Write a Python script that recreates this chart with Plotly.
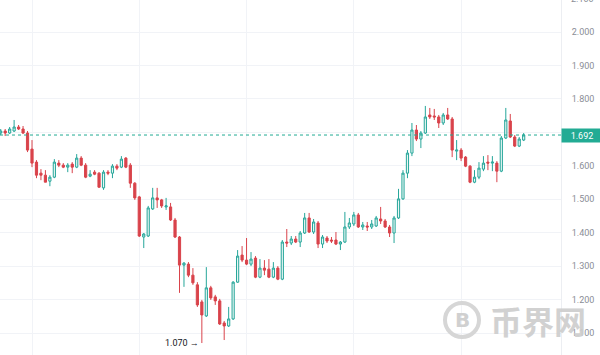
import plotly.graph_objects as go

opens = [1.698,1.704,1.698,1.704,1.716,1.710,1.698,1.650,1.611,1.578,
         1.572,1.554,1.566,1.608,1.602,1.596,1.605,1.596,1.623,1.602,
         1.569,1.581,1.578,1.534,1.581,1.578,1.599,1.596,1.623,1.602,
         1.548,1.507,1.387,1.390,1.471,1.504,1.498,1.477,1.477,1.438,
         1.387,1.303,1.306,1.273,1.244,1.193,1.151,1.235,1.208,1.196,
         1.130,1.121,1.142,1.252,1.333,1.318,1.306,1.324,1.267,1.294,
         1.291,1.267,1.294,1.261,1.372,1.369,1.381,1.372,1.399,1.444,
         1.402,1.429,1.366,1.384,1.378,1.378,1.366,1.372,1.417,1.426,
         1.453,1.417,1.420,1.417,1.420,1.441,1.435,1.417,1.399,1.444,
         1.501,1.578,1.638,1.707,1.680,1.698,1.752,1.749,1.746,1.728,
         1.752,1.740,1.644,1.647,1.626,1.599,1.551,1.566,1.590,1.611,
         1.608,1.608,1.584,1.683,1.734,1.686,1.659,1.677]
highs = [1.710,1.710,1.716,1.737,1.722,1.719,1.704,1.677,1.617,1.590,
         1.587,1.572,1.620,1.617,1.608,1.608,1.611,1.635,1.629,1.608,
         1.587,1.587,1.581,1.587,1.587,1.605,1.605,1.629,1.626,1.608,
         1.551,1.510,1.399,1.480,1.534,1.534,1.501,1.504,1.489,1.444,
         1.390,1.312,1.312,1.294,1.252,1.199,1.297,1.241,1.214,1.202,
         1.136,1.178,1.255,1.348,1.360,1.384,1.342,1.330,1.321,1.318,
         1.321,1.312,1.300,1.378,1.411,1.390,1.390,1.405,1.459,1.459,
         1.441,1.435,1.393,1.390,1.387,1.402,1.375,1.462,1.444,1.462,
         1.459,1.432,1.432,1.438,1.450,1.477,1.441,1.423,1.450,1.531,
         1.587,1.647,1.728,1.722,1.704,1.779,1.773,1.770,1.752,1.758,
         1.773,1.746,1.677,1.653,1.629,1.602,1.587,1.611,1.629,1.632,
         1.629,1.614,1.689,1.773,1.755,1.692,1.686,1.698]
lows = [1.692,1.689,1.695,1.701,1.707,1.695,1.641,1.596,1.563,1.557,
        1.551,1.539,1.563,1.596,1.593,1.581,1.578,1.593,1.599,1.563,
        1.566,1.572,1.534,1.528,1.572,1.563,1.587,1.593,1.593,1.534,
        1.498,1.387,1.354,1.387,1.468,1.474,1.474,1.468,1.435,1.384,
        1.220,1.238,1.267,1.244,1.178,1.070,1.148,1.199,1.184,1.124,
        1.079,1.118,1.139,1.250,1.312,1.303,1.300,1.264,1.264,1.273,
        1.264,1.264,1.258,1.258,1.357,1.363,1.369,1.357,1.396,1.399,
        1.396,1.354,1.354,1.369,1.369,1.363,1.348,1.369,1.411,1.420,
        1.414,1.408,1.405,1.411,1.417,1.426,1.414,1.387,1.369,1.441,
        1.498,1.563,1.629,1.674,1.653,1.695,1.740,1.737,1.713,1.722,
        1.737,1.626,1.617,1.614,1.596,1.548,1.548,1.560,1.584,1.587,
        1.584,1.551,1.581,1.680,1.683,1.656,1.656,1.674]
closes = [1.704,1.698,1.710,1.716,1.710,1.698,1.647,1.608,1.572,1.572,
          1.551,1.566,1.611,1.602,1.596,1.602,1.596,1.623,1.602,1.566,
          1.575,1.575,1.536,1.581,1.578,1.599,1.593,1.620,1.596,1.548,
          1.504,1.390,1.396,1.474,1.504,1.498,1.480,1.480,1.438,1.387,
          1.303,1.309,1.273,1.250,1.184,1.154,1.235,1.205,1.196,1.127,
          1.121,1.142,1.252,1.330,1.318,1.306,1.321,1.267,1.294,1.288,
          1.267,1.294,1.261,1.372,1.369,1.381,1.372,1.399,1.444,1.402,
          1.432,1.366,1.387,1.375,1.375,1.366,1.372,1.417,1.429,1.453,
          1.417,1.423,1.417,1.426,1.444,1.435,1.417,1.399,1.444,1.501,
          1.578,1.638,1.707,1.680,1.698,1.746,1.746,1.746,1.728,1.752,
          1.740,1.647,1.647,1.623,1.599,1.551,1.566,1.593,1.608,1.608,
          1.611,1.584,1.683,1.737,1.686,1.659,1.680,1.692]

last_price = 1.692
low_label = "1.070 →"
low_value = 1.070
watermark = "币界网"
top_tick = "2.100"
top_tick_value = 2.1

Y_MIN, Y_MAX = 1.0342, 2.0958

idx = list(range(len(opens)))
low_i = lows.index(min(lows))

GREEN = "#26a69a"
RED = "#d9434b"

fig = go.Figure()
fig.add_trace(go.Candlestick(
    x=idx, open=opens, high=highs, low=lows, close=closes,
    increasing=dict(line=dict(color=GREEN, width=1), fillcolor="#e9f7f4"),
    decreasing=dict(line=dict(color=RED, width=1), fillcolor=RED),
    hoverinfo="skip", showlegend=False,
))

fig.add_shape(type="line", xref="paper", yref="y", x0=0, x1=1,
              y0=last_price, y1=last_price,
              line=dict(color="#22ab94", width=1, dash="3px,3px"))

# watermark circle
fig.add_shape(type="circle", xref="paper", yref="paper",
              x0=445/561, x1=479/561, y0=1-337/355, y1=1-303/355,
              line=dict(color="#d6d6d6", width=4), layer="above")

fig.add_annotation(xref="paper", yref="paper", x=462/561, y=1-320/355,
                   text="<b>B</b>", showarrow=False,
                   font=dict(size=20, color="#d0d0d0", family="DejaVu Sans"),
                   xanchor="center", yanchor="middle")
fig.add_annotation(xref="paper", yref="paper", x=488/561, y=1-320/355,
                   text="<b>" + watermark + "</b>", showarrow=False,
                   font=dict(size=32, color="#cdcdcd", family="Noto Sans CJK SC"),
                   xanchor="left", yanchor="middle", opacity=0.9)

fig.add_annotation(xref="x", yref="y", x=low_i, y=low_value, text=low_label,
                   showarrow=False, xanchor="right", yanchor="middle", xshift=-1,
                   font=dict(size=9, color="#131722", family="Roboto"))

fig.add_annotation(xref="paper", yref="y", x=1, y=last_price,
                   text=f"{last_price:.3f}", showarrow=False,
                   xanchor="left", yanchor="middle",
                   bgcolor="#22ab94", width=40, height=13, borderpad=0,
                   font=dict(size=9, color="white", family="Roboto"))

# partially visible top tick label (value just above the visible range)
fig.add_annotation(xref="paper", yref="paper", x=1,
                   y=(top_tick_value - Y_MIN) / (Y_MAX - Y_MIN), text=top_tick,
                   showarrow=False, xanchor="left", yanchor="middle", xshift=8,
                   font=dict(size=9, color="#8a8d96", family="Roboto"))

fig.update_layout(
    width=600, height=355,
    margin=dict(l=0, r=39, t=0, b=0),
    paper_bgcolor="white", plot_bgcolor="white",
    xaxis=dict(range=[-0.16, 125.35], showticklabels=False,
               rangeslider=dict(visible=False),
               showgrid=True, gridcolor="#f1f3f7", gridwidth=1,
               tick0=7, dtick=24, zeroline=False, showline=False),
    yaxis=dict(range=[Y_MIN, Y_MAX], side="right",
               tick0=1.0, dtick=0.1, tickformat=".3f",
               showgrid=True, gridcolor="#f1f3f7", gridwidth=1,
               zeroline=False, showline=True, linecolor="#eceef2", linewidth=1,
               ticks="", ticklabelstandoff=8,
               tickfont=dict(size=9, color="#8a8d96", family="Roboto")),
    hovermode=False,
)

fig.write_html("out.html", config={"displayModeBar": False},
               post_script="document.body.style.margin='0';document.body.style.overflow='hidden';")
